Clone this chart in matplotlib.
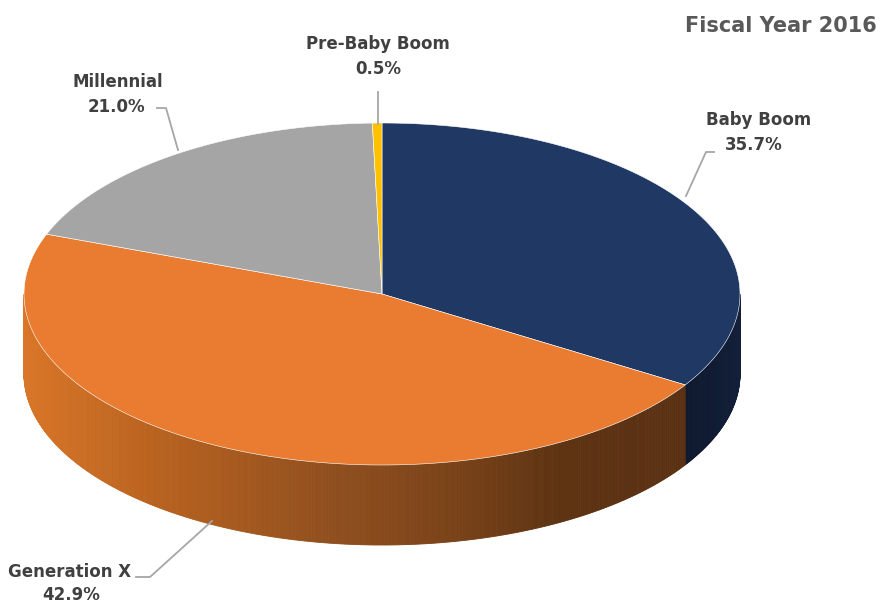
import numpy as np
import matplotlib
matplotlib.use("Agg")
import matplotlib.pyplot as plt
from matplotlib.patches import Polygon
from matplotlib.colors import to_rgb

# data
labels = ["Baby Boom", "Generation X", "Millennial", "Pre-Baby Boom"]
shares = [35.7, 42.9, 21.0, 0.5]
top_colors = ["#1F3864", "#E97C30", "#A5A5A5", "#FFC000"]
title = "Fiscal Year 2016"

# side wall shading: colour stops along x (pixels) per slice
side_stops = {
    0: ([680, 740], ["#0E182C", "#131F3A"]),
    1: ([25, 150, 330, 450, 560, 690], ["#D97628", "#BA631F", "#904F1E",
                                        "#7B4319", "#5D3312", "#5A3012"]),
}

# geometry of the tilted pie (pixel space)
cx, cy = 382, 294
rx, ry = 358, 171
depth = 80
warp = 8  # perspective: front of the pie looks a bit bigger

fig = plt.figure(figsize=(8.8, 6.03), dpi=100)
ax = fig.add_axes([0, 0, 1, 1])
ax.set_xlim(0, 880)
ax.set_ylim(603, 0)
ax.axis("off")

def pt(theta, dy=0):
    t = np.radians(theta + warp * np.cos(np.radians(theta)))
    return cx + rx * np.cos(t), cy - ry * np.sin(t) + dy

def shade(i, x):
    xs, cs = side_stops[i]
    rgb = np.array([to_rgb(c) for c in cs])
    return tuple(np.interp(x, xs, rgb[:, j]) for j in range(3))

# slice angles, clockwise from 12 o'clock
fr = np.array(shares) / sum(shares)
ends = 90 - 360 * np.cumsum(fr)
starts = np.concatenate([[90], ends[:-1]])

# the screen-horizontal extremes in "true" angle
left_edge = -180 - 0.0
right_edge = 0.0
# find true angles whose screen angle is 0 / -180
tt = np.linspace(-200, 20, 22001)
scr = tt + warp * np.cos(np.radians(tt))
right_edge = tt[np.argmin(abs(scr - 0))]
left_edge = tt[np.argmin(abs(scr + 180))]

# side walls (front half only)
for i in range(len(shares)):
    if i not in side_stops:
        continue
    lo = max(ends[i], left_edge)
    hi = min(starts[i], right_edge)
    if hi <= lo:
        continue
    n = int((hi - lo) * 3) + 2
    th = np.linspace(lo, hi, n)
    for k in range(n - 1):
        p1 = pt(th[k]); p2 = pt(th[k + 1])
        q2 = pt(th[k + 1], depth); q1 = pt(th[k], depth)
        col = shade(i, 0.5 * (p1[0] + p2[0]))
        ax.add_patch(Polygon([p1, p2, q2, q1], closed=True, facecolor=col,
                             edgecolor=col, lw=0.6))

# top faces
for i in range(len(shares)):
    th = np.linspace(starts[i], ends[i], max(int(abs(starts[i] - ends[i]) * 2), 4))
    xy = [(cx, cy)] + [pt(t) for t in th]
    ax.add_patch(Polygon(xy, closed=True, facecolor=top_colors[i],
                         edgecolor="white", lw=0.4))

# labels with leader lines
txt = dict(fontsize=12, fontweight="bold", color="#404040", family="DejaVu Sans",
           ha="center", va="center")
line = dict(color="#A6A6A6", lw=1.3)

ax.text(378, 44, labels[3], **txt)
ax.text(378, 69, f"{shares[3]:.1f}%", **txt)
ax.plot([378, 378], [92, 124], **line)

ax.text(759, 120, labels[0], **txt)
ax.text(754, 145, f"{shares[0]:.1f}%", **txt)
ax.plot([714, 706, 686], [152, 152, 196], **line)

ax.text(118, 82, labels[2], **txt)
ax.text(116, 107, f"{shares[2]:.1f}%", **txt)
ax.plot([157, 166, 178], [108, 108, 150], **line)

ax.text(70, 572, labels[1], **txt)
ax.text(71, 595, f"{shares[1]:.1f}%", **txt)
ax.plot([136, 150, 212], [577, 577, 521], **line)

ax.text(877, 26, title, fontsize=15, fontweight="bold", color="#595959",
        family="DejaVu Sans", ha="right", va="center")

fig.savefig("out.png", dpi=100)
